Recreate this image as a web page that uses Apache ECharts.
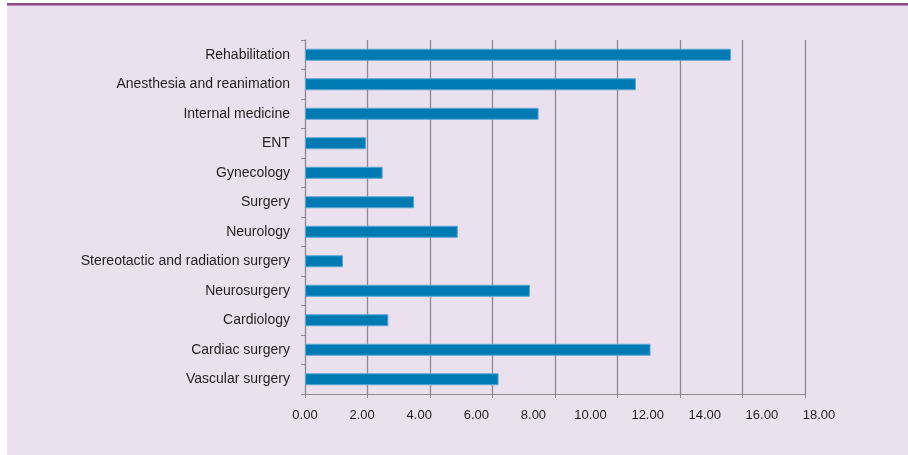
<!DOCTYPE html>
<html>
<head>
<meta charset="utf-8">
<script src="https://cdn.jsdelivr.net/npm/echarts@6/dist/echarts.min.js"></script>
<style>
html,body{margin:0;padding:0;background:#ffffff;width:908px;height:455px;overflow:hidden;}
#bg{position:absolute;left:7px;top:3px;width:901px;height:452px;background:#EAE0EE;border-top:2px solid #8F4C8F;box-sizing:border-box;}
#bg2{position:absolute;left:7px;top:5px;width:901px;height:1px;background:#B98AB9;}
#chart{position:absolute;left:0;top:0;width:908px;height:455px;}
</style>
</head>
<body>
<div id="bg"></div>
<div id="bg2"></div>
<div id="chart"></div>
<script>
const categories = [
  "Rehabilitation",
  "Anesthesia and reanimation",
  "Internal medicine",
  "ENT",
  "Gynecology",
  "Surgery",
  "Neurology",
  "Stereotactic and radiation surgery",
  "Neurosurgery",
  "Cardiology",
  "Cardiac surgery",
  "Vascular surgery"
];
const values = [14.92, 11.59, 8.18, 2.14, 2.72, 3.82, 5.35, 1.33, 7.88, 2.92, 12.10, 6.78];
// labelled axis
const xMin = 0, xMax = 18, xStep = 2;
// gridline axis as drawn in the reference (8 equal intervals)
const gridMin = 0, gridMax = 16, gridStep = 2;

const chart = echarts.init(document.getElementById('chart'), null, {renderer: 'canvas'});
const font = '"Liberation Sans", Arial, sans-serif';
const gray = '#8E8A92';
chart.setOption({
  backgroundColor: 'transparent',
  animation: false,
  grid: [
    {left: 305, top: 40, width: 500, height: 354, containLabel: false},
    {left: 305, top: 40, width: 514, height: 354, containLabel: false}
  ],
  xAxis: [
    {
      type: 'value', gridIndex: 0, min: gridMin, max: gridMax, interval: gridStep,
      axisLine: {show: true, lineStyle: {color: gray, width: 1}},
      axisTick: {show: true, length: 4, lineStyle: {color: gray}},
      axisLabel: {show: false},
      splitLine: {show: true, lineStyle: {color: gray, width: 1.3}}
    },
    {
      type: 'value', gridIndex: 1, min: xMin, max: xMax, interval: xStep,
      axisLine: {show: false}, axisTick: {show: false}, splitLine: {show: false},
      axisLabel: {show: true, margin: 15, color: '#231F20', fontFamily: font, fontSize: 13,
        formatter: v => v.toFixed(2)}
    }
  ],
  yAxis: [
    {
      type: 'category', gridIndex: 0, data: categories, inverse: true,
      axisLine: {show: true, lineStyle: {color: gray, width: 1}},
      axisTick: {show: true, length: 4, alignWithLabel: false, lineStyle: {color: gray}},
      axisLabel: {show: true, margin: 15, color: '#231F20', fontFamily: font, fontSize: 14},
      splitLine: {show: false}
    },
    {
      type: 'category', gridIndex: 1, data: categories, inverse: true, show: false
    }
  ],
  series: [
    {
      type: 'bar', xAxisIndex: 1, yAxisIndex: 1, data: values,
      barWidth: 12, z: 3,
      itemStyle: {color: '#007AB3', borderColor: '#5BA8D4', borderWidth: 1},
      silent: true
    }
  ]
});
</script>
</body>
</html>
